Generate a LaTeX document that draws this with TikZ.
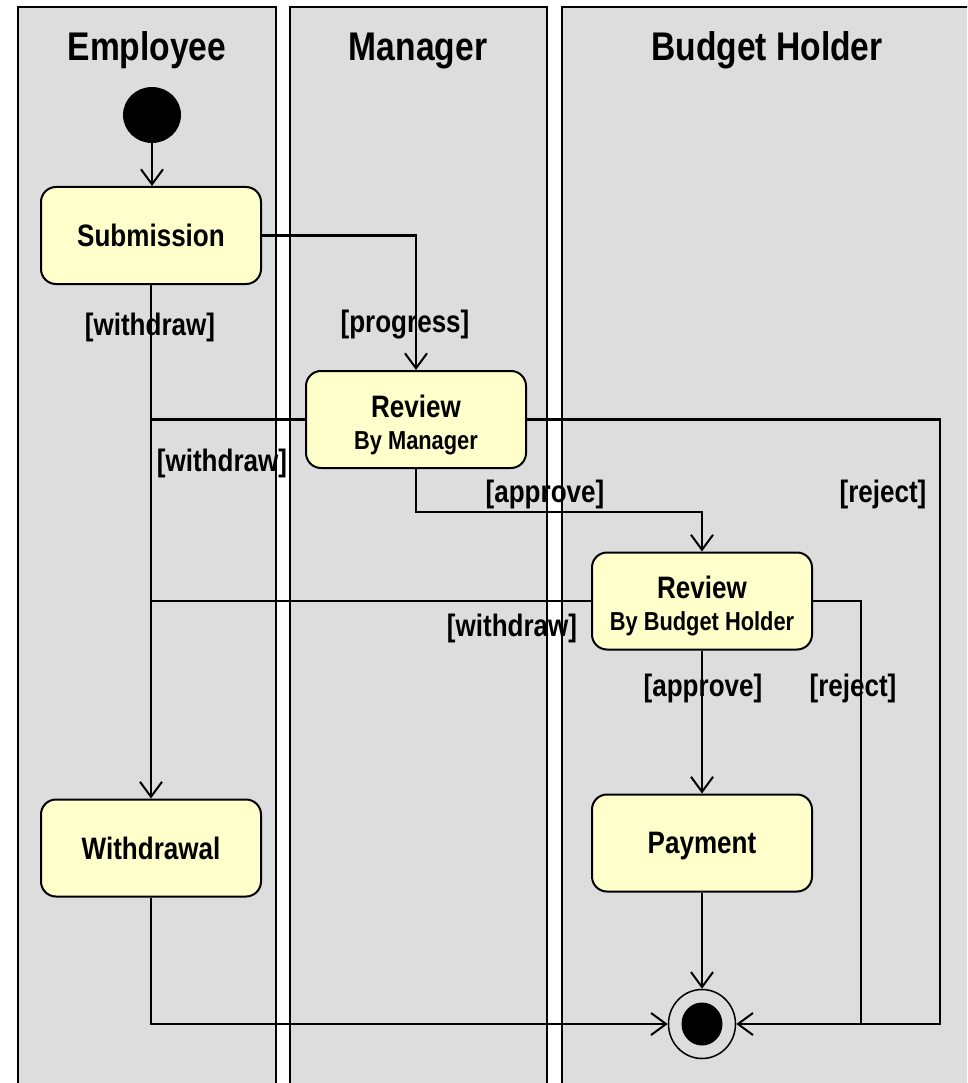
\documentclass[tikz,border=0pt]{standalone}
\usepackage{fontspec}
\newfontfamily\dgfont[FakeStretch=0.84]{Liberation Sans}
\usetikzlibrary{arrows.meta,shapes.geometric}
\definecolor{lanegray}{RGB}{221,221,221}
\definecolor{actyellow}{RGB}{255,255,204}
\begin{document}
\begin{tikzpicture}[x=1pt,y=-1pt,
  lane/.style={draw=black, line width=1.6pt, fill=lanegray},
  lanetitle/.style={font=\dgfont\bfseries\fontsize{40}{44}\selectfont, anchor=base, inner sep=0pt},
  activity/.style={draw=black, line width=2pt, fill=actyellow, rounded corners=15pt,
    minimum width=220pt, minimum height=97pt, inner sep=0pt, text depth=0pt,
    font=\dgfont\bfseries\fontsize{31}{35}\selectfont},
  acttitle/.style={font=\dgfont\bfseries\fontsize{31}{35}\selectfont, anchor=base, inner sep=0pt},
  actsub/.style={font=\dgfont\bfseries\fontsize{26}{30}\selectfont, anchor=base, inner sep=0pt},
  guard/.style={font=\dgfont\bfseries\fontsize{31}{35}\selectfont, inner sep=0pt},
  link/.style={draw=black, line width=2.2pt},
  flow/.style={link, -{Straight Barb[length=15pt,width=22pt,line width=2pt]}},
]
\useasboundingbox (0,0) rectangle (967,1083);
\fill[white] (0,0) rectangle (967,1083);

% swimlanes
\begin{scope}
  \clip (0,0) rectangle (967,1083);
  \draw[lane] (18,7) rectangle (276,1100);
  \draw[lane] (290,7) rectangle (547,1100);
  \draw[lane] (562,7) rectangle (1000,1100);
\end{scope}
\node[lanetitle] (tEmp) at (147,61) {Employee};
\node[lanetitle] (tMgr) at (418,61) {Manager};
\node[lanetitle] (tBud) at (767,61) {Budget Holder};

% start and end
\node[ellipse, fill=black, minimum width=58pt, minimum height=56pt, inner sep=0pt] (init) at (152,115) {};
\node[ellipse, draw=black, line width=1.5pt, minimum width=67pt, minimum height=69pt, inner sep=0pt] (fin) at (702,1024) {};
\node[ellipse, fill=black, minimum width=41pt, minimum height=43pt, inner sep=0pt] (finDot) at (fin.center) {};

% activities
\node[activity] (sub) at (151,235.5) {Submission};
\node[activity] (wd) at (151,848) {Withdrawal};
\node[activity] (rm) at (416,419.5) {};
\node[acttitle] (rmA) at ([yshift=2.5pt]rm.center) {Review};
\node[actsub] (rmB) at ([yshift=-29.5pt]rm.center) {By Manager};
\node[activity] (bh) at (702,601) {};
\node[acttitle] (bhA) at ([yshift=2.5pt]bh.center) {Review};
\node[actsub] (bhB) at ([yshift=-29.5pt]bh.center) {By Budget Holder};
\node[activity] (pay) at (702,843) {Payment};

% corner points of the reject paths
\coordinate (rejA) at (940,1024);
\coordinate (rejB) at (861,1024);

% guards
\node[guard] (gW1) at (150,327) {[withdraw]};
\node[guard] (gP) at (405,325) {[progress]};
\node[guard] (gW2) at (222,463) {[withdraw]};
\node[guard] (gA1) at (545,494) {[approve]};
\node[guard] (gR1) at (883,494) {[reject]};
\node[guard] (gW3) at (512,628) {[withdraw]};
\node[guard] (gA2) at (703,688) {[approve]};
\node[guard] (gR2) at (853,688) {[reject]};

% transitions
\draw[flow] (init.south) -- (init.south |- sub.north);
\draw[flow] (sub.east) -| (rm.north);
\draw[flow] (sub.south) -- (wd.north);
\draw[link] (rm.west) -- (rm.west -| sub.south);
\draw[flow] (rm.south) -- ++(0,43) -| (bh.north);
\draw[link] (bh.west) -- (bh.west -| sub.south);
\draw[flow] (bh.south) -- (pay.north);
\draw[flow] (pay.south) -- (fin.north);
\draw[flow] (wd.south) |- (fin.west);
\draw[flow] (rm.east) -| (rejA) -- (fin.east);
\draw[link] (bh.east) -| (rejB);
\end{tikzpicture}
\end{document}
